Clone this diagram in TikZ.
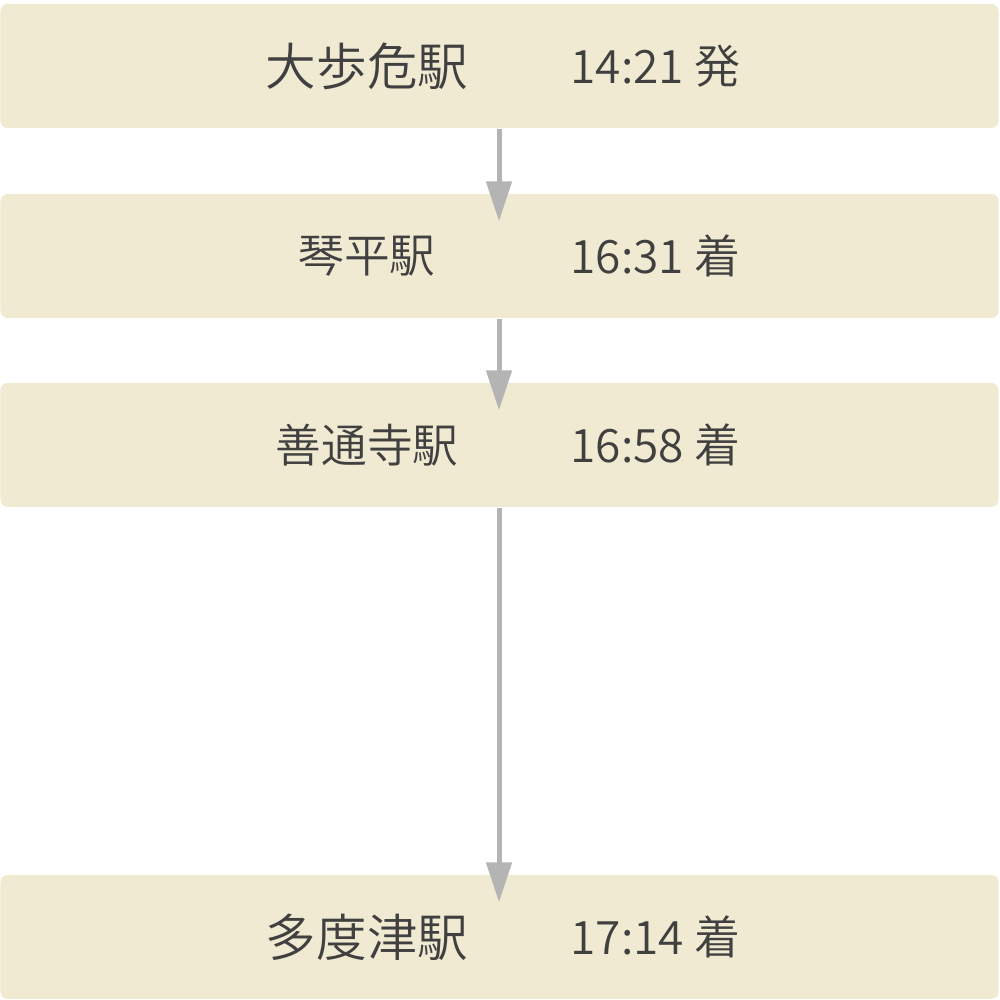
\documentclass[tikz,border=0pt]{standalone}
\usepackage{fontspec}
\setmainfont{Noto Sans CJK JP DemiLight}[Numbers=Monospaced]
\usetikzlibrary{arrows.meta,positioning}
\definecolor{boxcream}{RGB}{240,234,210}
\definecolor{arrowgray}{RGB}{180,180,180}
\definecolor{textgray}{RGB}{64,64,64}
\tikzset{
    % Station band style
    stationbox/.style={
        rectangle, draw=none, fill=boxcream,
        minimum width=9.98cm, minimum height=1.24cm,
        inner sep=0pt, rounded corners=2pt
    },
    % Station name styles
    bigname/.style={
        text=textgray, font=\fontsize{14.4pt}{16pt}\selectfont
    },
    smallname/.style={
        text=textgray, font=\fontsize{13pt}{15pt}\selectfont
    },
    % Time label style
    timelabel/.style={
        text=textgray, anchor=west, inner sep=0pt,
        font=\fontsize{13.1pt}{15pt}\selectfont
    },
    % Route arrows
    routearrow/.style={
        -{Triangle[length=0.4cm,width=0.25cm]}, line width=0.05cm,
        color=arrowgray, shorten >=-0.28cm
    }
}
\begin{document}
\begin{tikzpicture}
\useasboundingbox (0,0) rectangle (10,10);

% Station bands
\node[stationbox] (oboke) at (4.995,9.34) {};
\node[stationbox] (kotohira) at (4.995,7.44) {};
\node[stationbox] (zentsuji) at (4.995,5.55) {};
\node[stationbox] (tadotsu) at (4.995,0.63) {};

% Station names
\node[bigname] (obokename) at (3.67,9.34) {大歩危駅};
\node[smallname] (kotohiraname) at (3.67,7.44) {琴平駅};
\node[smallname] (zentsujiname) at (3.67,5.55) {善通寺駅};
\node[bigname] (tadotsuname) at (3.67,0.63) {多度津駅};

% Times
\node[timelabel] (obokeTime) at (5.70,9.34) {14:21 発};
\node[timelabel] (kotohiraTime) at (5.70,7.44) {16:31 着};
\node[timelabel] (zentsujiTime) at (5.70,5.55) {16:58 着};
\node[timelabel] (tadotsuTime) at (5.70,0.63) {17:14 着};

% Route
\draw[routearrow] (oboke.south -| 4.99,0) -- (kotohira.north -| 4.99,0);
\draw[routearrow] (kotohira.south -| 4.99,0) -- (zentsuji.north -| 4.99,0);
\draw[routearrow] (zentsuji.south -| 4.99,0) -- (tadotsu.north -| 4.99,0);

\end{tikzpicture}
\end{document}
